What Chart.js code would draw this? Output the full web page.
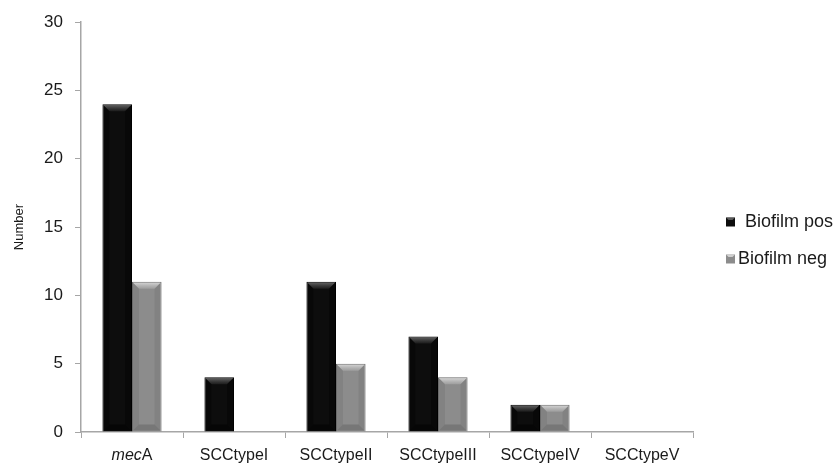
<!DOCTYPE html>
<html>
<head>
<meta charset="utf-8">
<script src="https://cdn.jsdelivr.net/npm/chart.js@4"></script>
<style>
html,body{margin:0;padding:0;background:#fff;}
#wrap{width:835px;height:466px;position:relative;}
</style>
</head>
<body>
<div id="wrap"><canvas id="c" width="835" height="466"></canvas></div>
<script>
const categories = ["mecA", "SCCtypeI", "SCCtypeII", "SCCtypeIII", "SCCtypeIV", "SCCtypeV"];
const biofilmPos = [24, 4, 11, 7, 2, 0];
const biofilmNeg = [11, 0, 5, 4, 2, 0];
const seriesNames = ["Biofilm pos", "Biofilm neg"];
const yTicks = [0, 5, 10, 15, 20, 25, 30];

const FONT = "'Liberation Sans', Arial, sans-serif";

const bevelPlugin = {
  id: 'bevel',
  afterDatasetsDraw(chart) {
    const ctx = chart.ctx;
    chart.data.datasets.forEach((ds, di) => {
      const meta = chart.getDatasetMeta(di);
      meta.data.forEach((bar, i) => {
        if (!ds.data[i]) return;
        const p = bar.getProps(['x', 'y', 'base', 'width'], true);
        const l = p.x - p.width / 2, r = p.x + p.width / 2, t = p.y, b = p.base;
        const h = b - t;
        const bv = Math.min(7, h / 2);
        ctx.save();
        const g = ctx.createLinearGradient(0, t, 0, t + bv);
        g.addColorStop(0, di === 0 ? 'rgba(120,120,120,0.9)' : 'rgba(225,225,225,0.95)');
        g.addColorStop(1, di === 0 ? 'rgba(40,40,40,0.6)' : 'rgba(170,170,170,0.6)');
        ctx.fillStyle = g;
        ctx.beginPath();
        ctx.moveTo(l + 1, t + 1); ctx.lineTo(r - 1, t + 1);
        ctx.lineTo(r - bv, t + bv); ctx.lineTo(l + bv, t + bv);
        ctx.closePath(); ctx.fill();
        ctx.fillStyle = di === 0 ? 'rgba(0,0,0,0.5)' : 'rgba(80,80,80,0.35)';
        ctx.beginPath();
        ctx.moveTo(l + 1, b - 1); ctx.lineTo(r - 1, b - 1);
        ctx.lineTo(r - bv, b - bv); ctx.lineTo(l + bv, b - bv);
        ctx.closePath(); ctx.fill();
        ctx.fillStyle = di === 0 ? 'rgba(0,0,0,0.35)' : 'rgba(90,90,90,0.18)';
        ctx.beginPath();
        ctx.moveTo(r - 1, t + 1); ctx.lineTo(r - 1, b - 1);
        ctx.lineTo(r - bv, b - bv); ctx.lineTo(r - bv, t + bv);
        ctx.closePath(); ctx.fill();
        ctx.beginPath();
        ctx.moveTo(l + 1, t + 1); ctx.lineTo(l + 1, b - 1);
        ctx.lineTo(l + bv, b - bv); ctx.lineTo(l + bv, t + bv);
        ctx.closePath(); ctx.fill();
        ctx.restore();
      });
    });
  }
};

const labelPlugin = {
  id: 'xlabels',
  afterDraw(chart) {
    const ctx = chart.ctx;
    const xs = chart.scales.x;
    ctx.save();
    ctx.fillStyle = '#1a1a1a';
    ctx.textBaseline = 'middle';
    const y = 456;
    const fs = 16;
    categories.forEach((c, i) => {
      const x = xs.getPixelForValue(i);
      if (c === 'mecA') {
        ctx.font = 'italic ' + fs + 'px ' + FONT;
        const w1 = ctx.measureText('mec').width;
        ctx.font = fs + 'px ' + FONT;
        const w2 = ctx.measureText('A').width;
        const sx = x - (w1 + w2) / 2;
        ctx.textAlign = 'left';
        ctx.font = 'italic ' + fs + 'px ' + FONT;
        ctx.fillText('mec', sx, y);
        ctx.font = fs + 'px ' + FONT;
        ctx.fillText('A', sx + w1, y);
      } else {
        ctx.font = fs + 'px ' + FONT;
        ctx.textAlign = 'center';
        ctx.fillText(c, x, y);
      }
    });
    const cols = ['#0d0d0d', '#8c8c8c'];
    const ly = [222, 259];
    const tx = [745, 738];
    seriesNames.forEach((n, i) => {
      ctx.fillStyle = cols[i];
      ctx.fillRect(726, ly[i] - 4.5, 9, 9);
      ctx.fillStyle = i === 0 ? 'rgba(110,110,110,0.8)' : 'rgba(215,215,215,0.9)';
      ctx.beginPath();
      ctx.moveTo(726, ly[i] - 4.5); ctx.lineTo(735, ly[i] - 4.5);
      ctx.lineTo(732.5, ly[i] - 2); ctx.lineTo(728.5, ly[i] - 2);
      ctx.closePath(); ctx.fill();
      ctx.fillStyle = '#1a1a1a';
      ctx.font = '18px ' + FONT;
      ctx.textAlign = 'left';
      ctx.fillText(n, tx[i], ly[i]);
    });
    ctx.restore();
  }
};

new Chart(document.getElementById('c'), {
  type: 'bar',
  data: {
    labels: categories,
    datasets: [
      { label: seriesNames[0], data: biofilmPos, backgroundColor: '#0d0d0d', borderColor: '#000', borderWidth: 1,
        barPercentage: 1.0, categoryPercentage: 0.58 },
      { label: seriesNames[1], data: biofilmNeg, backgroundColor: '#8c8c8c', borderColor: '#6a6a6a', borderWidth: 1,
        barPercentage: 1.0, categoryPercentage: 0.58 }
    ]
  },
  options: {
    responsive: false,
    animation: false,
    devicePixelRatio: 1,
    layout: { padding: { top: 21, right: 142, bottom: 0, left: 0 } },
    plugins: { legend: { display: false }, tooltip: { enabled: false } },
    scales: {
      x: {
        grid: { display: true, offset: true, drawOnChartArea: false, color: '#a6a6a6', tickLength: 6, lineWidth: 1 },
        border: { display: true, color: '#a6a6a6', width: 1.5 },
        ticks: { color: 'rgba(0,0,0,0)', font: { size: 14, family: FONT }, padding: 10 },
        afterFit(s) { s.height = 34; }
      },
      y: {
        min: 0, max: 30,
        afterBuildTicks(s) { s.ticks = yTicks.map(v => ({ value: v })); },
        grid: { display: true, drawOnChartArea: false, color: '#a6a6a6', tickLength: 6 },
        border: { display: true, color: '#a6a6a6', width: 1.5 },
        ticks: { color: '#1a1a1a', font: { size: 17, family: FONT }, padding: 12 },
        title: { display: true, text: 'Number', color: '#1a1a1a', font: { size: 13, family: FONT }, padding: { top: 12, bottom: 0 } },
        afterFit(s) { s.width = 81; }
      }
    }
  },
  plugins: [bevelPlugin, labelPlugin]
});
</script>
</body>
</html>
